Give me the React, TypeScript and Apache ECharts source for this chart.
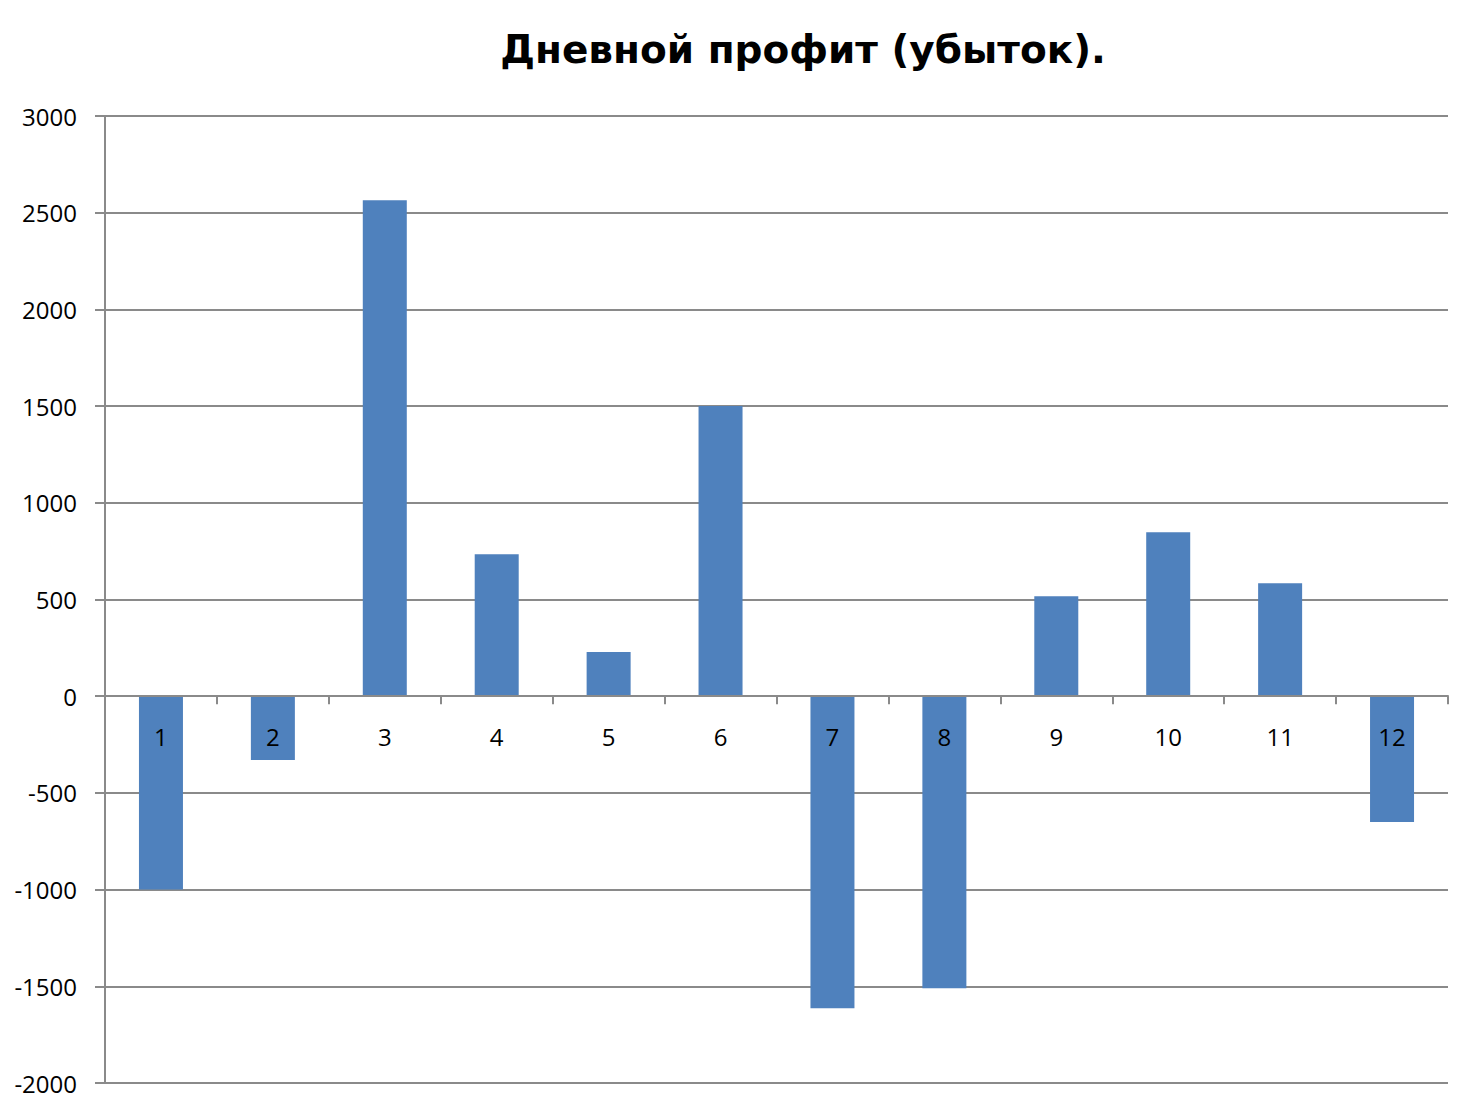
import React, { useEffect, useRef } from "react";
import * as echarts from "echarts";

const titleText = "Дневной профит (убыток).";
const categories = ["1", "2", "3", "4", "5", "6", "7", "8", "9", "10", "11", "12"];
const profit = [-1000, -330, 2565, 734, 228, 1500, -1613, -1510, 517, 848, 584, -651];
const yMin = -2000;
const yMax = 3000;
const yStep = 500;

const CHART_H = 1094;
const GRID_TOP = 116;
const GRID_BOTTOM = 11;

export default function App() {
  const ref = useRef<HTMLDivElement>(null);
  useEffect(() => {
    if (!ref.current) return;
    const chart = echarts.init(ref.current, undefined, { renderer: "svg" });
    const axisColor = "#8a8a8a";
    const plotH = CHART_H - GRID_TOP - GRID_BOTTOM;
    const zeroOffset = -((0 - yMin) / (yMax - yMin)) * plotH;
    chart.setOption({
      animation: false,
      backgroundColor: "#ffffff",
      title: {
        text: titleText,
        left: 798,
        top: 25,
        textAlign: "center",
        textStyle: { fontFamily: "DejaVu Sans", fontWeight: "bold", fontSize: 39, color: "#000" },
      },
      grid: {
        left: 105,
        right: 12,
        top: GRID_TOP,
        bottom: GRID_BOTTOM,
        containLabel: false,
        outerBoundsMode: "none",
      },
      xAxis: {
        type: "category",
        data: categories,
        position: "bottom",
        offset: zeroOffset,
        z: 10,
        axisLine: { onZero: false, lineStyle: { color: axisColor, width: 2 } },
        axisTick: { show: true, inside: false, length: 8, lineStyle: { color: axisColor, width: 2 } },
        axisLabel: { margin: 28, fontFamily: "Open Sans", fontSize: 24, color: "#000" },
        splitLine: { show: false },
      },
      yAxis: {
        type: "value",
        min: yMin,
        max: yMax,
        interval: yStep,
        axisLine: { show: true, lineStyle: { color: axisColor, width: 2 } },
        axisTick: { show: true, length: 10, lineStyle: { color: axisColor, width: 2 } },
        axisLabel: {
          margin: 28,
          fontFamily: "Open Sans",
          fontSize: 24,
          color: "#000",
          formatter: (v: number) => String(v),
        },
        splitLine: { show: true, lineStyle: { color: axisColor, width: 2 } },
      },
      series: [
        {
          type: "bar",
          data: profit,
          barWidth: 44,
          itemStyle: { color: "#4f81bd" },
        },
      ],
    });
    return () => chart.dispose();
  }, []);
  return (
    <div
      ref={ref}
      style={{ position: "fixed", left: 0, top: 0, width: 1460, height: CHART_H, background: "#fff" }}
    />
  );
}
